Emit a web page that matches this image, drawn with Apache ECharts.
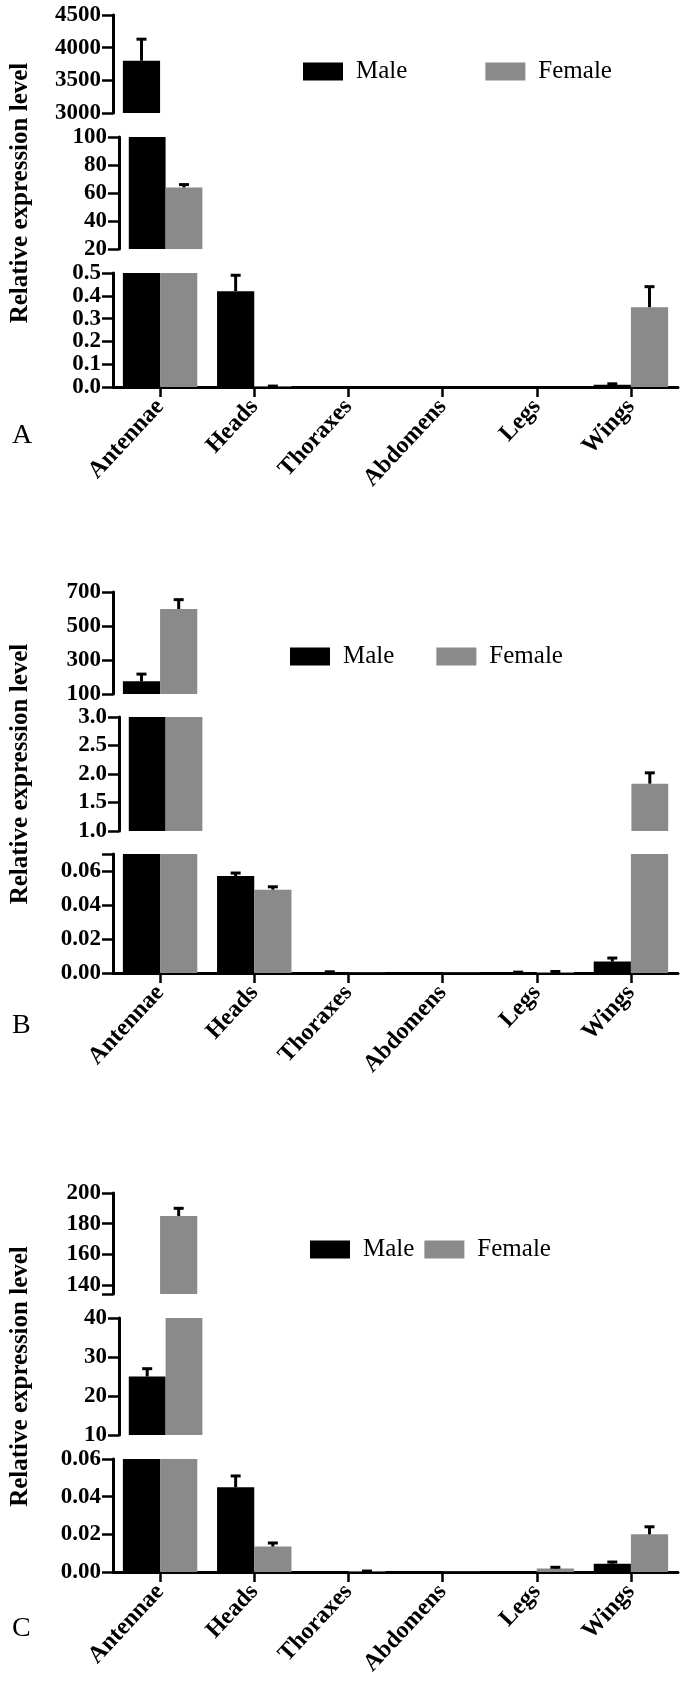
<!DOCTYPE html>
<html><head><meta charset="utf-8">
<script src="https://cdn.jsdelivr.net/npm/echarts@6/dist/echarts.min.js"></script>
<style>html,body{margin:0;padding:0;background:#fff}#c{width:685px;height:1681px}</style>
</head><body><div id="c"></div>
<script>
// ---- data ----
const categories = ['Antennae', 'Heads', 'Thoraxes', 'Abdomens', 'Legs', 'Wings'];
const seriesNames = ['Male', 'Female'];

const maleA      = [3800, 0.42, 0.0004, 0.0002, 0.0003, 0.010];
const maleErrA   = [330, 0.07, 0, 0, 0, 0.004];
const femaleA    = [64, 0.003, 0.0002, 0.0001, 0.0002, 0.35];
const femaleErrA = [2, 0.001, 0, 0, 0, 0.09];

const maleB      = [175, 0.057, 0.0005, 0.0001, 0.0003, 0.0067];
const maleErrB   = [42, 0.0018, 0.0002, 0, 0.0002, 0.0021];
const femaleB    = [600, 0.049, 0.0001, 0.0001, 0.0006, 1.83];
const femaleErrB = [55, 0.0017, 0, 0, 0.0003, 0.19];

const maleC      = [25, 0.045, 0.0001, 0.0001, 0.0001, 0.0044];
const maleErrC   = [2, 0.006, 0, 0, 0, 0.0009];
const femaleC    = [185, 0.0135, 0.0004, 0.0001, 0.0018, 0.020];
const femaleErrC = [5, 0.0019, 0.0001, 0, 0.0007, 0.004];

// y-axis segments (broken axis), top to bottom
const ticksA = [[3000, 3500, 4000, 4500], [20, 40, 60, 80, 100], [0, 0.1, 0.2, 0.3, 0.4, 0.5]];
const rangesA = [[3000, 4500], [20, 100], [0, 0.5]];
const digitsA = [0, 0, 1];

const ticksB = [[100, 300, 500, 700], [1, 1.5, 2, 2.5, 3], [0, 0.02, 0.04, 0.06]];
const rangesB = [[100, 700], [1, 3], [0, 0.07]];
const digitsB = [0, 1, 2];

const ticksC = [[140, 160, 180, 200], [10, 20, 30, 40], [0, 0.02, 0.04, 0.06]];
const rangesC = [[134, 200], [10, 40], [0, 0.06]];
const digitsC = [0, 0, 2];

const panelLetters = ['A', 'B', 'C'];
const yTitle = 'Relative expression level';

// ---- layout (pixels) ----
const segPx = [
  [[15, 113], [137, 249], [273, 387]],
  [[592, 694], [717, 831], [854, 973]],
  [[1193, 1294], [1318, 1435], [1459, 1572]]
];
const legendPos = [[298, 54, 78], [285, 639, 42], [305, 1232, 10]];
const letterTop = [417, 1007, 1610];

const panels = [
  {male: maleA, maleErr: maleErrA, female: femaleA, femaleErr: femaleErrA, ticks: ticksA, ranges: rangesA, digits: digitsA},
  {male: maleB, maleErr: maleErrB, female: femaleB, femaleErr: femaleErrB, ticks: ticksB, ranges: rangesB, digits: digitsB},
  {male: maleC, maleErr: maleErrC, female: femaleC, femaleErr: femaleErrC, ticks: ticksC, ranges: rangesC, digits: digitsC}
];

const SERIF = 'Liberation Serif';
const MALE_COLOR = '#000000';
const FEMALE_COLOR = '#8a8a8a';

function renderErr(params, api) {
  const c = api.value(0), v = api.value(1), e = api.value(2), side = api.value(3);
  const band = api.size([1, 0])[0];
  const off = (side ? 1 : -1) * band * 0.1975;
  const p0 = api.coord([c, v]);
  const p1 = api.coord([c, v + e]);
  const x = p0[0] + off;
  return {
    type: 'group',
    children: [
      {type: 'line', shape: {x1: x, y1: p0[1], x2: x, y2: p1[1]}, style: {stroke: '#000', lineWidth: 3}},
      {type: 'line', shape: {x1: x - 5, y1: p1[1], x2: x + 5, y2: p1[1]}, style: {stroke: '#000', lineWidth: 3}}
    ]
  };
}

const grid = [], xAxis = [], yAxis = [], series = [], legend = [], title = [];
let gi = 0;
panels.forEach((p, pi) => {
  legend.push({
    data: seriesNames, left: legendPos[pi][0], top: legendPos[pi][1], itemGap: legendPos[pi][2],
    icon: 'rect', itemWidth: 40, itemHeight: 18, selectedMode: false,
    textStyle: {fontFamily: SERIF, fontSize: 25, color: '#000', padding: [0, 0, 0, 8]}
  });
  title.push({
    text: panelLetters[pi], left: 7, top: letterTop[pi],
    textStyle: {fontFamily: SERIF, fontSize: 28, fontWeight: 'normal', color: '#000'}
  });
  for (let s = 0; s < 3; s++) {
    const [t, b] = segPx[pi][s];
    const [mn, mx] = p.ranges[s];
    const isBottom = s === 2;
    grid.push({left: 113, width: 565, top: t, height: b - t});
    xAxis.push({
      type: 'category', gridIndex: gi, data: categories, show: isBottom,
      axisLine: {show: isBottom, onZero: false, lineStyle: {color: '#000', width: 3}},
      axisTick: {show: isBottom, alignWithLabel: true, length: 10, lineStyle: {color: '#000', width: 2.5}},
      axisLabel: {show: isBottom, rotate: 47, margin: 16, color: '#000',
        fontFamily: SERIF, fontWeight: 'bold', fontSize: 24},
      splitLine: {show: false}
    });
    const dg = p.digits[s];
    const tickVals = p.ticks[s].slice();
    if (tickVals.indexOf(mn) < 0) tickVals.push(mn);
    if (tickVals.indexOf(mx) < 0) tickVals.push(mx);
    yAxis.push({
      type: 'value', gridIndex: gi, min: mn, max: mx,
      name: s === 1 ? yTitle : '', nameLocation: 'middle', nameRotate: 90, nameGap: 86,
      nameTextStyle: {fontFamily: SERIF, fontWeight: 'bold', fontSize: 25, color: '#000'},
      axisLine: {show: true, lineStyle: {color: '#000', width: 3}},
      axisTick: {show: true, length: 11, customValues: tickVals, lineStyle: {color: '#000', width: 2.5}},
      axisLabel: {show: true, margin: 12, customValues: p.ticks[s], color: '#000',
        fontFamily: SERIF, fontWeight: 'bold', fontSize: 23,
        formatter: v => Number(v).toFixed(dg)},
      splitLine: {show: false}
    });
    const inSeg = arr => arr.map(v => (v > mn ? v : '-'));
    series.push({
      name: 'Male', type: 'bar', xAxisIndex: gi, yAxisIndex: gi, data: inSeg(p.male),
      barGap: '0%', barCategoryGap: '21%', clip: true, itemStyle: {color: MALE_COLOR}, silent: true
    });
    series.push({
      name: 'Female', type: 'bar', xAxisIndex: gi, yAxisIndex: gi, data: inSeg(p.female),
      barGap: '0%', barCategoryGap: '21%', clip: true, itemStyle: {color: FEMALE_COLOR}, silent: true
    });
    const errData = [];
    [[p.male, p.maleErr, 0], [p.female, p.femaleErr, 1]].forEach(([vals, errs, side]) => {
      vals.forEach((v, i) => {
        if (errs[i] > 0 && v > mn && v <= mx) errData.push([i, v, errs[i], side]);
      });
    });
    series.push({
      type: 'custom', xAxisIndex: gi, yAxisIndex: gi, data: errData, clip: true, silent: true,
      encode: {x: 0, y: 1}, renderItem: renderErr, z: 3
    });
    gi++;
  }
});

const chart = echarts.init(document.getElementById('c'), null, {renderer: 'canvas'});
chart.setOption({
  animation: false, backgroundColor: '#ffffff',
  title, legend, grid, xAxis, yAxis, series
});
</script>
</body></html>
